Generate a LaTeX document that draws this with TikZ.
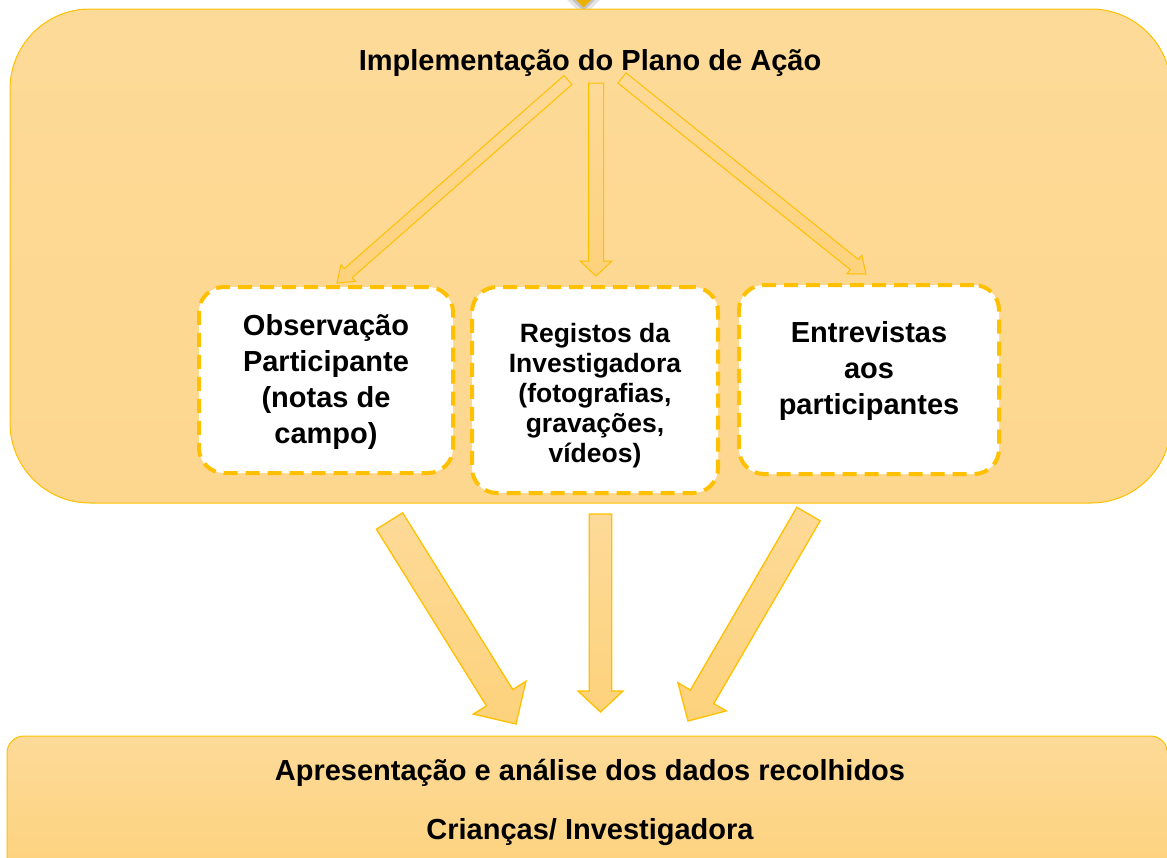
\documentclass[tikz,border=0pt]{standalone}
\usepackage{fontspec}
\setmainfont{Liberation Sans}
\usetikzlibrary{calc}
\definecolor{gold}{HTML}{FFC000}
\definecolor{tipgold}{HTML}{ECB100}
\definecolor{peachtop}{HTML}{FDDA98}
\definecolor{peach}{HTML}{FDD78E}
\definecolor{peachdark}{HTML}{FDD27C}

% block arrow: [style] tail, tip, shaft width, head width, head length
\newcommand{\blockarrow}[6][]{%
  \coordinate (neck) at ($(#3)!#6!(#2)$);
  \path[#1] ($(#2)!#4/2!90:(#3)$) -- ($(neck)!#4/2!90:(#3)$)
    -- ($(neck)!#5/2!90:(#3)$) -- (#3)
    -- ($(neck)!#5/2!-90:(#3)$) -- ($(neck)!#4/2!-90:(#3)$)
    -- ($(#2)!#4/2!-90:(#3)$) -- cycle;}

\begin{document}
\begin{tikzpicture}[
        x=1pt, y=-1pt,
        panel/.style={draw=gold, line width=1pt, top color=peachtop, bottom color=peach},
        card/.style={draw=gold, fill=white, line width=4pt, dash pattern=on 14pt off 8pt,
                     rounded corners=25pt, inner sep=0pt},
        big/.style={font=\bfseries\fontsize{29}{36}\selectfont, align=center,
                    anchor=base, inner sep=0pt},
        small/.style={font=\bfseries\fontsize{26.5}{30}\selectfont, align=center,
                    anchor=base, inner sep=0pt},
        thin/.style={draw=gold, line width=1pt, top color=peachtop, bottom color=peachdark},
        thick/.style={draw=gold, line width=1.3pt, top color=peachtop, bottom color=peachdark},
    ]
        \useasboundingbox (0,0) rectangle (1167,857);
        % Tip of the previous step.
        \fill[black, opacity=0.10] (567,0) -- (600,0) -- (583.5,16) -- cycle;
        \fill[black, opacity=0.15] (572,0) -- (595,0) -- (583.5,11) -- cycle;
        \fill[tipgold] (576,0) -- (591,0) -- (583.5,7.5) -- cycle;
        % Action plan panel.
        \path[panel, rounded corners=80pt] (10,9) rectangle (1171,503);
        \node[big] (plano) at (590,70) {Implementação do Plano de Ação};
        % Data sources (text anchored on the last baseline).
        \node[card, minimum width=254pt, minimum height=186pt] (obs) at (326,380) {};
        \node[card, minimum width=246pt, minimum height=206pt] (reg) at (595,390) {};
        \node[card, minimum width=260pt, minimum height=189pt] (ent) at (869,379.5) {};
        \node[big] (obstxt) at (326,443)
            {Observação\\Participante\\(notas de\\campo)};
        \node[small] (regtxt) at (595,462)
            {Registos da\\Investigadora\\(fotografias,\\gravações,\\vídeos)};
        \node[big] (enttxt) at (869,414)
            {Entrevistas\\aos\\participantes};
        % Arrows from the plan to each source.
        \coordinate (p1) at (568,80);    \coordinate (o1) at (337,283);
        \coordinate (p2) at (596,83);    \coordinate (r1) at (596,276);
        \coordinate (p3) at (622,78);    \coordinate (e1) at (866,274);
        \foreach \a/\b/\w/\h in {p1/o1/12pt/22pt, p2/r1/15pt/32pt, p3/e1/13pt/24pt}
            {\blockarrow[thin]{\a}{\b}{\w}{\h}{15pt}}
        % Arrows down to the analysis.
        \coordinate (s1) at (389.5,521); \coordinate (a1) at (516,724);
        \coordinate (s2) at (600.5,514); \coordinate (a2) at (600.5,712);
        \coordinate (s3) at (808.5,514); \coordinate (a3) at (688,721);
        \foreach \a/\b/\w/\h/\l in {s1/a1/31pt/62pt/31pt, s2/a2/22.5pt/45pt/21pt,
                                    s3/a3/27pt/56pt/28pt}
            {\blockarrow[thick]{\a}{\b}{\w}{\h}{\l}}
        % Analysis panel.
        \path[panel, top color=peachtop, bottom color=peachdark, rounded corners=17pt]
            (7,736) rectangle (1167.5,880);
        \node[big] (dados) at (590,780) {Apresentação e análise dos dados recolhidos};
        \node[big] (quem) at (590,839) {Crianças/ Investigadora};
    \end{tikzpicture}
\end{document}
